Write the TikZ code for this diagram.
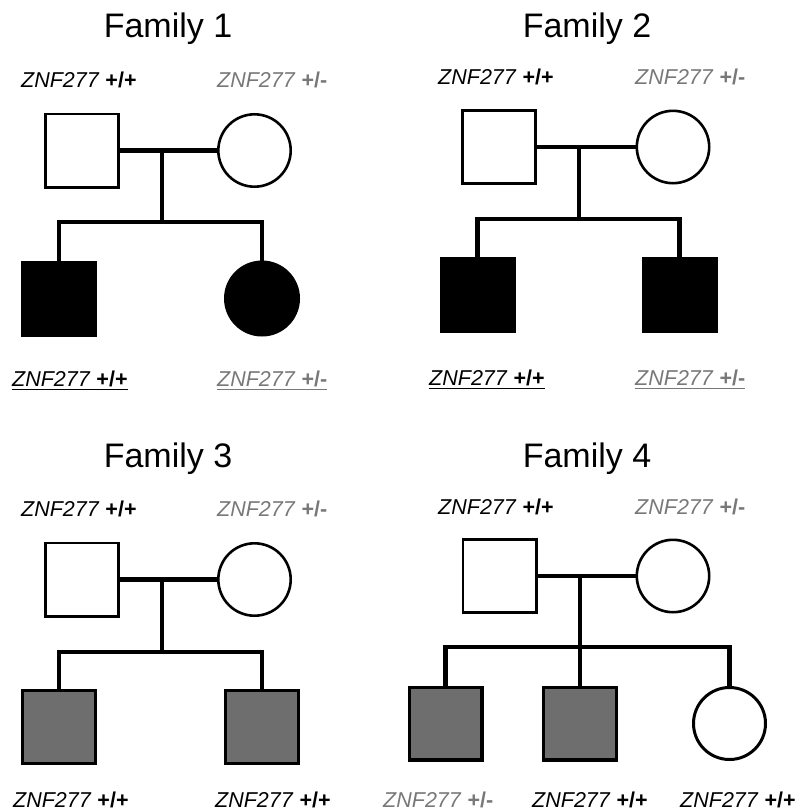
\documentclass[tikz,border=0pt]{standalone}
\usepackage{fontspec}
\setmainfont{Liberation Sans}
\definecolor{gtext}{RGB}{120,120,120}
\definecolor{gfill}{RGB}{110,110,110}
\tikzset{
  x=1pt, y=-1pt,
  parentsq/.style={draw, line width=2.6pt, rectangle, minimum size=73.4pt, inner sep=0pt, fill=white},
  parentci/.style={draw, line width=2.6pt, circle, minimum size=72.4pt, inner sep=0pt, fill=white},
  affsq/.style={draw, line width=2pt, rectangle, minimum size=74pt, inner sep=0pt, fill=black},
  affci/.style={draw, line width=2pt, circle, minimum size=74pt, inner sep=0pt, fill=black},
  carsq/.style={draw, line width=3.4pt, rectangle, minimum size=72.6pt, inner sep=0pt, fill=gfill},
  childci/.style={draw, line width=3pt, circle, minimum size=72pt, inner sep=0pt, fill=white},
  link/.style={line width=4.2pt},
  ttl/.style={font=\fontsize{34}{38}\selectfont, inner sep=0pt, anchor=base},
  lbl/.style={font=\fontsize{21.5}{24}\selectfont, inner sep=0pt, anchor=base west},
  glbl/.style={lbl, text=gtext},
  uline/.style={line width=1.3pt}
}
\newcommand{\genoPP}{\textit{ZNF277} \textbf{+/+}}
\newcommand{\genoPM}{\textit{ZNF277} \textbf{+/-}}
\begin{document}
\begin{tikzpicture}
\useasboundingbox (0,0) rectangle (797,811);
% ---------- Titles ----------
\node[ttl] (t1) at (168,37) {Family 1};
\node[ttl] (t2) at (587,37) {Family 2};
\node[ttl] (t3) at (168,467) {Family 3};
\node[ttl] (t4) at (587,467) {Family 4};

% ---------- Family 1 ----------
\node[lbl] (f1fl) at (21,87) {\genoPP};
\node[glbl] (f1ml) at (217,87) {\genoPM};
\node[parentsq] (f1f) at (82,150.5) {};
\node[parentci] (f1m) at (254.5,150.5) {};
\node[affsq] (f1c1) at (59,298.5) {};
\node[affci] (f1c2) at (262,298.5) {};
\coordinate (f1j) at (162,150.5);
\coordinate (f1s) at (162,222);
\draw[link] (f1f.east) -- (f1m.west);
\draw[link] (f1j) -- (f1s);
\draw[link, line cap=rect] (f1c1.north) -- (f1c1.north |- f1s) -- (f1c2.north |- f1s) -- (f1c2.north);
\node[lbl] (f1c1l) at (12,386) {\genoPP};
\node[glbl] (f1c2l) at (217,386) {\genoPM};
\draw[uline] ([yshift=-3.5]f1c1l.base west) -- ([yshift=-3.5]f1c1l.base east);
\draw[uline, gtext] ([yshift=-3.5]f1c2l.base west) -- ([yshift=-3.5]f1c2l.base east);

% ---------- Family 2 ----------
\node[lbl] (f2fl) at (438,84) {\genoPP};
\node[glbl] (f2ml) at (635,84) {\genoPM};
\node[parentsq] (f2f) at (499,147) {};
\node[parentci] (f2m) at (673,147) {};
\node[affsq] (f2c1) at (477.5,294.5) {};
\node[affsq] (f2c2) at (679.5,294.5) {};
\coordinate (f2j) at (579,147);
\coordinate (f2s) at (579,219);
\draw[link] (f2f.east) -- (f2m.west);
\draw[link] (f2j) -- (f2s);
\draw[link, line cap=rect] (f2c1.north) -- (f2c1.north |- f2s) -- (f2c2.north |- f2s) -- (f2c2.north);
\node[lbl] (f2c1l) at (429,385) {\genoPP};
\node[glbl] (f2c2l) at (635,385) {\genoPM};
\draw[uline] ([yshift=-3.5]f2c1l.base west) -- ([yshift=-3.5]f2c1l.base east);
\draw[uline, gtext] ([yshift=-3.5]f2c2l.base west) -- ([yshift=-3.5]f2c2l.base east);

% ---------- Family 3 ----------
\node[lbl] (f3fl) at (21,516) {\genoPP};
\node[glbl] (f3ml) at (217,516) {\genoPM};
\node[parentsq] (f3f) at (82,579.5) {};
\node[parentci] (f3m) at (254.5,579.5) {};
\node[carsq] (f3c1) at (59,727) {};
\node[carsq] (f3c2) at (262,727) {};
\coordinate (f3j) at (162,579.5);
\coordinate (f3s) at (162,652);
\draw[link] (f3f.east) -- (f3m.west);
\draw[link] (f3j) -- (f3s);
\draw[link, line cap=rect] (f3c1.north) -- (f3c1.north |- f3s) -- (f3c2.north |- f3s) -- (f3c2.north);
\node[lbl] (f3c1l) at (13,807) {\genoPP};
\node[lbl] (f3c2l) at (215,807) {\genoPP};

% ---------- Family 4 ----------
\node[lbl] (f4fl) at (438,514) {\genoPP};
\node[glbl] (f4ml) at (635,514) {\genoPM};
\node[parentsq] (f4f) at (499.5,576) {};
\node[parentci] (f4m) at (673,576) {};
\node[carsq] (f4c1) at (445.5,723.5) {};
\node[carsq] (f4c2) at (580,723.5) {};
\node[childci] (f4c3) at (729.5,723.5) {};
\coordinate (f4j) at (580,576);
\coordinate (f4s) at (580,647);
\draw[link] (f4f.east) -- (f4m.west);
\draw[link] (f4j) -- (f4j |- f4c2.north);
\draw[link, line cap=rect] (f4c1.north) -- (f4c1.north |- f4s) -- (f4c3.north |- f4s) -- (f4c3.north);
\node[glbl] (f4c1l) at (383,807) {\genoPM};
\node[lbl] (f4c2l) at (532,807) {\genoPP};
\node[lbl] (f4c3l) at (680,807) {\genoPP};
\end{tikzpicture}
\end{document}
